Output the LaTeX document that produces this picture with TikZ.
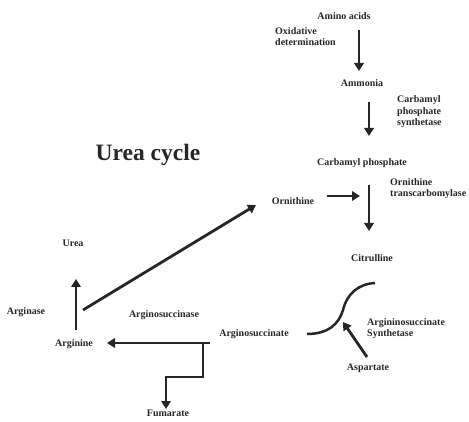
\documentclass[tikz,border=0pt]{standalone}
\usepackage{fontspec}
\setmainfont{Liberation Serif}
\usetikzlibrary{arrows.meta}

\tikzset{
  lbl/.style={font=\fontsize{10}{11.5}\selectfont\bfseries, inner sep=0pt, text=black!85},
  flow/.style={line width=2.8pt, draw=black!85, -{Triangle[length=8pt,width=9.5pt]}},
  scurve/.style={line width=2.5pt, draw=black!85}
}

\begin{document}
\begin{tikzpicture}[x=1pt,y=-1pt]
\useasboundingbox (0,0) rectangle (469,422);

\node[lbl] (amino) at (344,16) {Amino acids};
\node[lbl, align=left, anchor=west] (oxid) at (275,36.5) {Oxidative\\determination};
\node[lbl] (ammonia) at (362,83) {Ammonia};
\node[lbl, align=left, anchor=west] (cps) at (397,112) {Carbamyl\\phosphate\\synthetase};
\node[lbl] (carbp) at (362,163) {Carbamyl phosphate};
\node[lbl] (ornith) at (293,201) {Ornithine};
\node[lbl, align=left, anchor=west] (otc) at (390,188.5) {Ornithine\\transcarbomylase};
\node[lbl] (citrul) at (372,258) {Citrulline};
\node[lbl, font=\fontsize{23.5}{27}\selectfont\bfseries] (title) at (148,155) {Urea cycle};
\node[lbl] (urea) at (73,243) {Urea};
\node[lbl] (arginase) at (26,312) {Arginase};
\node[lbl] (asase) at (164,315) {Arginosuccinase};
\node[lbl] (arginine) at (74,344) {Arginine};
\node[lbl] (asucc) at (254,334) {Arginosuccinate};
\node[lbl, align=left, anchor=west] (ass) at (367,328.5) {Argininosuccinate\\Synthetase};
\node[lbl] (asp) at (368,368) {Aspartate};
\node[lbl] (fum) at (168,413) {Fumarate};

\coordinate (a1) at (359,30);   \coordinate (a2) at (359,71);
\coordinate (b1) at (369,102);  \coordinate (b2) at (369,136);
\coordinate (c1) at (369,185);  \coordinate (c2) at (369,231);
\coordinate (o1) at (327,196);  \coordinate (o2) at (360,196);
\coordinate (r1) at (83,310);   \coordinate (r2) at (256,205);
\coordinate (u1) at (76,330);   \coordinate (u2) at (76,279);
\coordinate (s1) at (210,343);  \coordinate (s2) at (107,343);
\coordinate (f1) at (203,343);  \coordinate (f2) at (166,409);
\coordinate (p1) at (367,357);  \coordinate (p2) at (343,322);
\coordinate (k1) at (307,334);  \coordinate (k2) at (343,310);  \coordinate (k3) at (375,283);

\draw[flow] (a1) -- (a2);
\draw[flow] (b1) -- (b2);
\draw[flow] (c1) -- (c2);
\draw[flow] (o1) -- (o2);
\draw[flow] (r1) -- (r2);
\draw[flow] (u1) -- (u2);
\draw[flow] (s1) -- (s2);
\draw[flow] (f1) -- (f1 |- 0,377) -- (f2 |- 0,377) -- (f2);
\draw[flow] (p1) -- (p2);
\draw[scurve] (k1) .. controls (328,334) and (339,324) .. (k2) .. controls (347,294) and (358,284) .. (k3);
\end{tikzpicture}
\end{document}
